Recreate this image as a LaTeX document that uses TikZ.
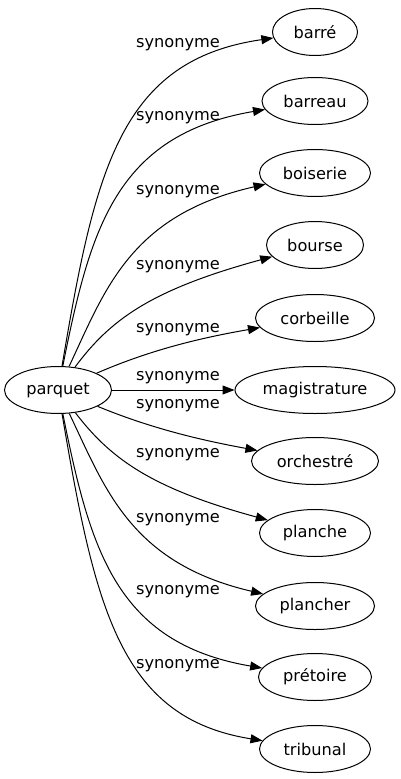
\documentclass[tikz,border=0pt]{standalone}
\usepackage{fontspec}
\setmainfont{DejaVu Sans}
\usetikzlibrary{arrows.meta,shapes.geometric}
\tikzset{
  word/.style={draw,ellipse,line width=1pt,inner sep=0pt,minimum height=47pt,
    font=\fontsize{16.2}{19}\selectfont},
  lbl/.style={inner sep=0pt,font=\fontsize{16.2}{19}\selectfont},
  syn/.style={line width=1pt,-{Triangle[length=12pt,width=9pt]}}
}

\begin{document}
\begin{tikzpicture}[x=1pt,y=-1pt]
            \useasboundingbox (0,0) rectangle (400,779);
            \node[word,minimum width=107] (parquet) at (58,390) {parquet};
            \foreach \n/\t/\w/\y in {barre/barré/85/32,barreau/barreau/106/101,
              boiserie/boiserie/111/173,bourse/bourse/97/245,corbeille/corbeille/119/318,
              magistrature/magistrature/160/390,orchestre/orchestré/127/461,
              planche/planche/111/533,plancher/plancher/119/606,
              pretoire/prétoire/113/677,tribunal/tribunal/111/749}
              \node[word,minimum width=\w] (\n) at (315,\y) {\t};
            % labels
            \foreach \y [count=\i] in {45,118,192,267,330,378,406,455,520,592,666}
              \node[lbl] (s\i) at (178,\y) {synonyme};
            % edges
            \foreach \n/\ax/\ay/\bx/\by in {barre/95/170/120/60,barreau/90/230/115/135,
              boiserie/105/290/130/215,bourse/110/320/150/290,corbeille/150/350/200/338,
              orchestre/150/428/200/440,planche/110/458/150/488,plancher/105/488/130/563,
              pretoire/90/548/115/643,tribunal/95/608/120/718}
              \draw[syn] (parquet) .. controls (\ax,\ay) and (\bx,\by) .. (\n);
            \draw[syn] (parquet) -- (magistrature);
          \end{tikzpicture}
\end{document}
